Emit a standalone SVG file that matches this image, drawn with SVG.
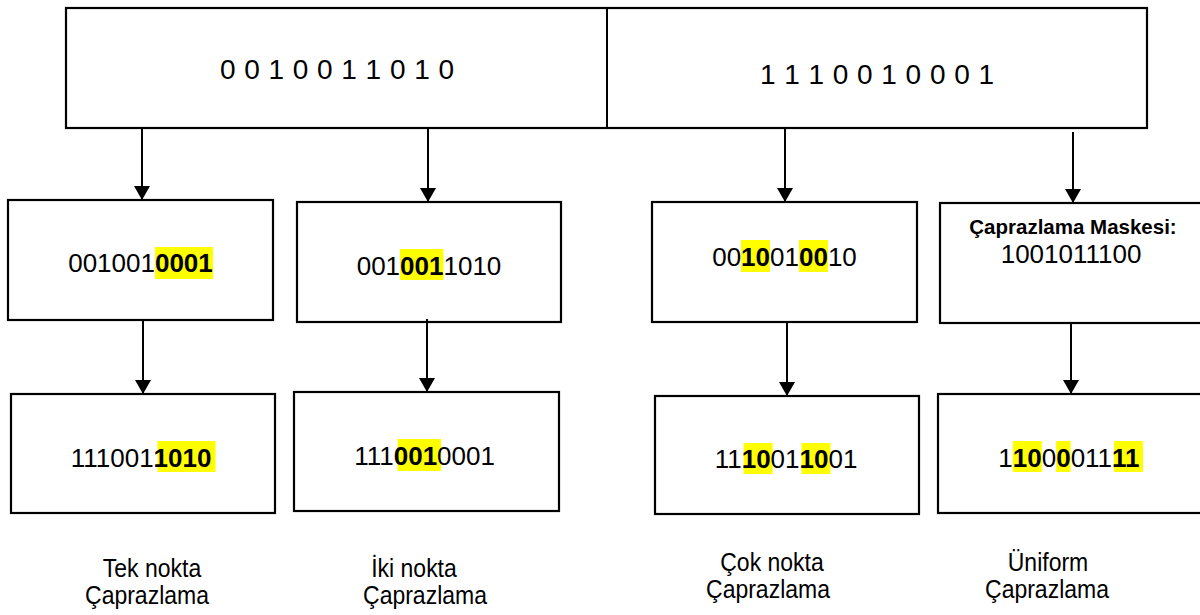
<svg xmlns="http://www.w3.org/2000/svg" width="1200" height="615" viewBox="0 0 1200 615">
<defs>
<marker id="ah" viewBox="0 0 14 16" refX="14" refY="8" markerWidth="14" markerHeight="16" markerUnits="userSpaceOnUse" orient="auto">
<path d="M0,0 L14,8 L0,16 z" fill="#000"/>
</marker>
<style>
.box{fill:#fff;stroke:#000;stroke-width:2.2}
.t{font-family:"Liberation Sans",Arial,sans-serif;fill:#000}
.d{font-size:26px}
.b{font-weight:bold}
.hl{fill:#FFFF00}
.top{font-size:28px}
.lbl{font-size:23px;text-anchor:middle}
.cn line{stroke:#000;stroke-width:2;marker-end:url(#ah)}
</style>
</defs>
<rect width="1200" height="615" fill="#fff"/>

<g id="parents">
<rect class="box" x="66" y="8" width="1081" height="120"/>
<line x1="607" y1="8" x2="607" y2="128" stroke="#000" stroke-width="2"/>
<text class="t top" x="337" y="79" text-anchor="middle" textLength="234" lengthAdjust="spacing">0 0 1 0 0 1 1 0 1 0</text>
<text class="t top" x="877" y="84" text-anchor="middle" textLength="234" lengthAdjust="spacing">1 1 1 0 0 1 0 0 0 1</text>
</g>

<g id="tek1">
<rect class="box" x="8" y="200" width="265" height="120"/>
<rect class="hl" x="155" y="247" width="58" height="32"/>
<text class="t d" x="68.2" y="272">001001<tspan class="b">0001</tspan></text>
</g>

<g id="iki1">
<rect class="box" x="297" y="202" width="264" height="120"/>
<rect class="hl" x="400" y="249" width="43.4" height="31"/>
<text class="t d" x="356.7" y="275">001<tspan class="b">001</tspan>1010</text>
</g>

<g id="cok1">
<rect class="box" x="652" y="202" width="265" height="120"/>
<rect class="hl" x="741" y="240" width="29" height="32"/>
<rect class="hl" x="799" y="240" width="29" height="32"/>
<text class="t d" x="712.2" y="266">00<tspan class="b">10</tspan>01<tspan class="b">00</tspan>10</text>
</g>

<g id="uni1">
<rect class="box" x="940" y="203" width="268" height="120"/>
<text class="t b" x="1073" y="234" font-size="20.5" text-anchor="middle">Çaprazlama Maskesi:</text>
<text class="t d" x="1000.7" y="263">1001011100</text>
</g>

<g id="tek2">
<rect class="box" x="11" y="394" width="264" height="119"/>
<rect class="hl" x="157.5" y="441" width="58" height="31"/>
<text class="t d" x="70.7" y="467">111001<tspan class="b">1010</tspan></text>
</g>

<g id="iki2">
<rect class="box" x="294" y="392" width="265" height="119"/>
<rect class="hl" x="397.6" y="439" width="43.4" height="32"/>
<text class="t d" x="354.2" y="465">111<tspan class="b">001</tspan>0001</text>
</g>

<g id="cok2">
<rect class="box" x="655" y="396" width="264" height="118"/>
<rect class="hl" x="743.6" y="443" width="29" height="31"/>
<rect class="hl" x="801.5" y="443" width="29" height="31"/>
<text class="t d" x="714.7" y="468">11<tspan class="b">10</tspan>01<tspan class="b">10</tspan>01</text>
</g>

<g id="uni2">
<rect class="box" x="938" y="394" width="270" height="119"/>
<rect class="hl" x="1012.8" y="441" width="29" height="31"/>
<rect class="hl" x="1056.1" y="441" width="14.5" height="31"/>
<rect class="hl" x="1114" y="441" width="29" height="31"/>
<text class="t d" x="998.3" y="467">1<tspan class="b">10</tspan>0<tspan class="b">0</tspan>011<tspan class="b">11</tspan></text>
</g>

<g id="labels">
<text class="t lbl" transform="translate(152,577) scale(1,1.1)">Tek nokta</text>
<text class="t lbl" transform="translate(147,604) scale(1,1.1)">Çaprazlama</text>
<text class="t lbl" transform="translate(414,577) scale(1,1.1)">İki nokta</text>
<text class="t lbl" transform="translate(425,604) scale(1,1.1)">Çaprazlama</text>
<text class="t lbl" transform="translate(772,571) scale(1,1.1)">Çok nokta</text>
<text class="t lbl" transform="translate(768,598) scale(1,1.1)">Çaprazlama</text>
<text class="t lbl" transform="translate(1048,571) scale(1,1.1)">Üniform</text>
<text class="t lbl" transform="translate(1047,598) scale(1,1.1)">Çaprazlama</text>
</g>

<g id="connectors" class="cn">
<line x1="142" y1="128" x2="142" y2="200"/>
<line x1="428" y1="128" x2="428" y2="202"/>
<line x1="785" y1="128" x2="785" y2="202"/>
<line x1="1073" y1="132" x2="1073" y2="203"/>
<line x1="143" y1="320" x2="143" y2="394"/>
<line x1="427" y1="319" x2="427" y2="392"/>
<line x1="787" y1="322" x2="787" y2="396"/>
<line x1="1071" y1="322" x2="1071" y2="394"/>
</g>
</svg>
